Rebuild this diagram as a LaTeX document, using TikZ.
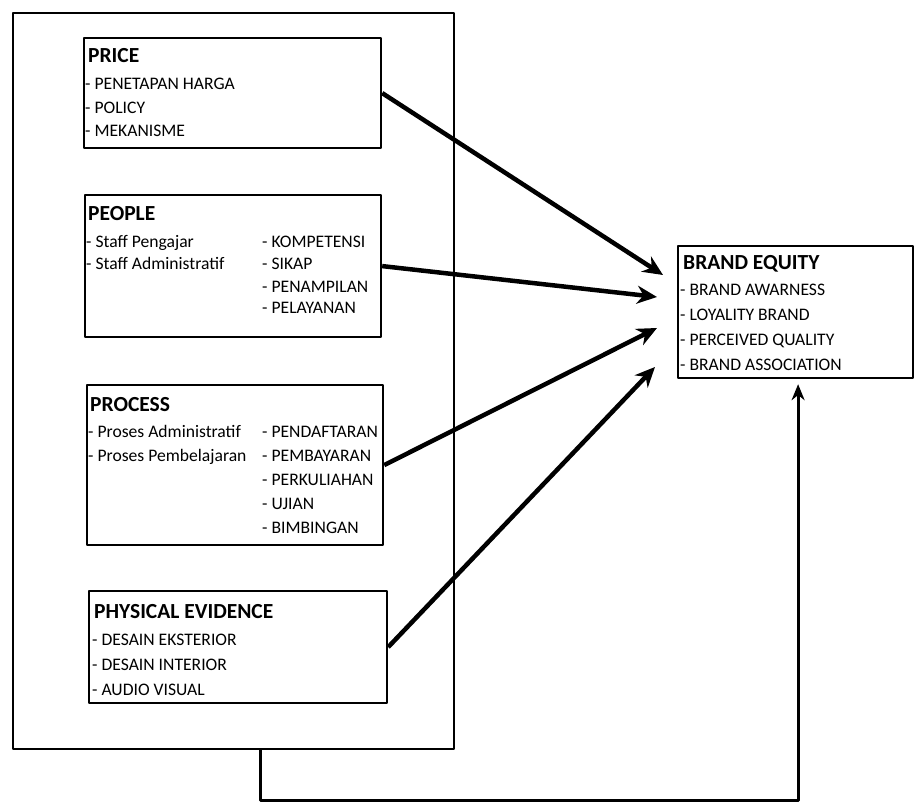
\documentclass[tikz,border=0pt]{standalone}
\usepackage{fontspec}
\setmainfont{Carlito}
\usetikzlibrary{arrows.meta,positioning}

\newcommand{\headfont}{\fontsize{21.5}{25}\selectfont\bfseries}
\newcommand{\listfont}{\fontsize{17.6}{23.5}\selectfont}

\tikzset{
  outerbox/.style={draw,line width=2pt,inner sep=0pt,anchor=north west},
  varbox/.style={draw,line width=2.2pt,inner sep=0pt,anchor=north west},
  head/.style={font=\headfont,inner sep=0pt,anchor=base west},
  items/.style={font=\listfont,inner sep=0pt,anchor=base west},
  link/.style={->,line width=4.5pt},
}

\begin{document}
\begin{tikzpicture}[x=1pt,y=-1pt,>={Stealth[length=20pt,width=18pt]},line join=round]
	\useasboundingbox (0,0) rectangle (918,802);
	% frame round the marketing mix
	\node[outerbox,minimum width=441pt,minimum height=736pt] (mix) at (12,12) {};
	% price
	\node[varbox,minimum width=297pt,minimum height=110pt] (price) at (83,37) {};
	\node[head] (pricehead) at (88,63) {PRICE};
	\node[items] (priceitems) at (85,90) {\begin{tabular}[t]{@{}l@{}}
		- PENETAPAN HARGA\\ - POLICY\\ - MEKANISME\end{tabular}};
	% people
	\node[varbox,minimum width=296pt,minimum height=142pt] (people) at (84,194) {};
	\node[head] (peoplehead) at (88,221) {PEOPLE};
	\node[items,font=\fontsize{17.6}{22}\selectfont] (peopleitems) at (86,248) {\begin{tabular}[t]{@{}p{176pt}@{}l@{}}
		- Staff Pengajar & - KOMPETENSI\\
		- Staff Administratif & - SIKAP\\
		 & - PENAMPILAN\\
		 & - PELAYANAN\end{tabular}};
	% process
	\node[varbox,minimum width=296pt,minimum height=160pt] (process) at (86,384) {};
	\node[head] (processhead) at (90,411) {PROCESS};
	\node[items,font=\fontsize{17.6}{24}\selectfont] (processitems) at (88,437) {\begin{tabular}[t]{@{}p{174pt}@{}l@{}}
		- Proses Administratif & - PENDAFTARAN\\
		- Proses Pembelajaran & - PEMBAYARAN\\
		 & - PERKULIAHAN\\
		 & - UJIAN\\
		 & - BIMBINGAN\end{tabular}};
	% physical evidence
	\node[varbox,minimum width=298pt,minimum height=112pt] (physical) at (88,590) {};
	\node[head] (physicalhead) at (94,618) {PHYSICAL EVIDENCE};
	\node[items,font=\fontsize{17.6}{25}\selectfont] (physicalitems) at (92,645) {\begin{tabular}[t]{@{}l@{}}
		- DESAIN EKSTERIOR\\ - DESAIN INTERIOR\\ - AUDIO VISUAL\end{tabular}};
	% brand equity
	\node[varbox,minimum width=235pt,minimum height=132pt] (brand) at (677,245) {};
	\node[head] (brandhead) at (683,270) {BRAND EQUITY};
	\node[items,font=\fontsize{17.6}{25}\selectfont] (branditems) at (680,295) {\begin{tabular}[t]{@{}l@{}}
		- BRAND AWARNESS\\ - LOYALITY BRAND\\ - PERCEIVED QUALITY\\ - BRAND ASSOCIATION\end{tabular}};
	% arrows into brand equity
	\coordinate (tip1) at (663,275);
	\coordinate (tip2) at (657,297);
	\coordinate (tip3) at (657,328);
	\coordinate (tip4) at (655,367);
	\draw[link] (price.east) -- (tip1);
	\draw[link] (people.east) -- (tip2);
	\draw[link] (process.east) -- (tip3);
	\draw[link] (physical.east) -- (tip4);
	\draw[->,line width=3pt,>={Stealth[length=16pt,width=13pt]},shorten >=5pt]
		([xshift=248pt]mix.south west) -- ++(0,50) -| ([xshift=2.5pt]brand.south);
\end{tikzpicture}
\end{document}
